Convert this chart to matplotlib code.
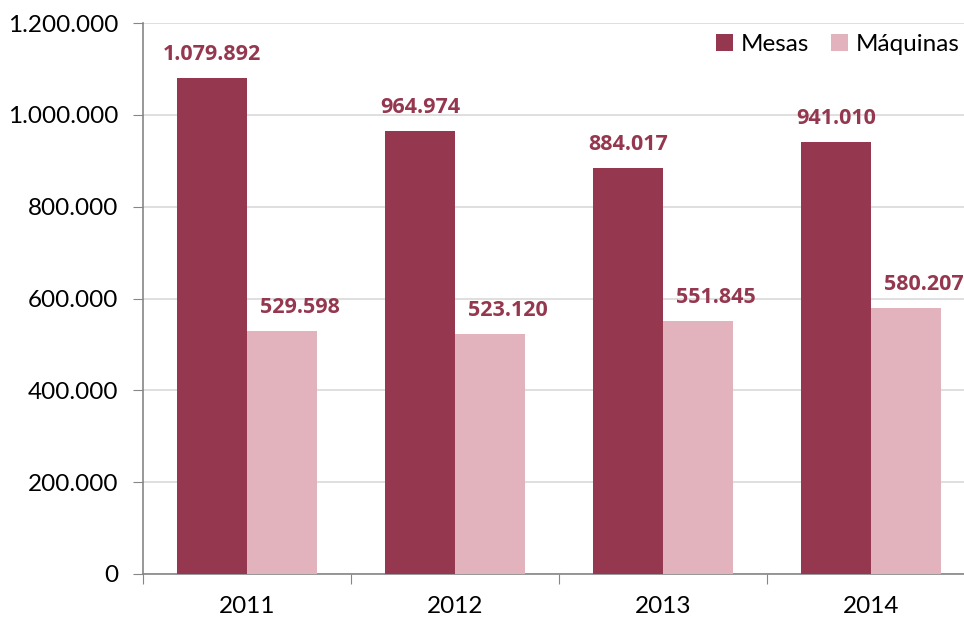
import matplotlib
matplotlib.use("Agg")
import matplotlib.pyplot as plt
import numpy as np
from matplotlib.ticker import FuncFormatter, FixedLocator

years = ["2011", "2012", "2013", "2014"]
mesas = [1079892, 964974, 884017, 941010]
maquinas = [529598, 523120, 551845, 580207]
series_names = ["Mesas", "Máquinas"]

c_mesas = "#94374F"
c_maq = "#E3B3BD"
c_label = "#94374F"

plt.rcParams['font.family'] = ['Lato', 'DejaVu Sans']
BOLD = ['Open Sans', 'DejaVu Sans']

fig = plt.figure(figsize=(9.64, 6.19), dpi=100)
W, H = 964, 619
left, right_px, top, bottom = 143, 143 + 4 * 208, 23, 574
ax = fig.add_axes([left / W, 1 - bottom / H, (right_px - left) / W, (bottom - top) / H])

x = np.arange(len(years))
bw = 0.335
ax.bar(x - bw / 2, mesas, bw, color=c_mesas, label=series_names[0], zorder=3)
ax.bar(x + bw / 2, maquinas, bw, color=c_maq, label=series_names[1], zorder=3)

def fmt(v):
    return f"{int(v):,}".replace(",", ".")

for xi, v in zip(x, mesas):
    ax.annotate(fmt(v), (xi - bw / 2, v), xytext=(0, 13), textcoords="offset points",
                ha="center", va="baseline", color=c_label, fontsize=15.5, fontweight="bold",
                family=BOLD)
for xi, v in zip(x, maquinas):
    ax.annotate(fmt(v), (xi + bw / 2, v), xytext=(13, 13), textcoords="offset points",
                ha="center", va="baseline", color=c_label, fontsize=15.5, fontweight="bold",
                family=BOLD, annotation_clip=False)

ax.set_xlim(-0.5, 3.5)
ax.set_ylim(0, 1200000)
ax.yaxis.set_major_locator(FixedLocator(np.arange(0, 1200001, 200000)))
ax.yaxis.set_major_formatter(FuncFormatter(lambda v, p: fmt(v)))
ax.grid(axis="y", color="#D9D9D9", linewidth=1.2, zorder=0)
ax.set_axisbelow(True)

ax.set_xticks([-0.5, 0.5, 1.5, 2.5, 3.5])
ax.set_xticklabels([])
ax.set_xticks(x, minor=True)
ax.set_xticklabels(years, minor=True)
ax.tick_params(axis="x", which="minor", length=0, pad=16, labelsize=17.5)
ax.tick_params(axis="x", which="major", length=7, color="#868686", direction="out")
ax.tick_params(axis="y", length=7, color="#868686", direction="out", labelsize=17.5, pad=11)

for s in ["top", "right"]:
    ax.spines[s].set_visible(False)
for s in ["left", "bottom"]:
    ax.spines[s].set_color("#868686")
    ax.spines[s].set_linewidth(1.2)

leg = fig.legend(loc="upper right", bbox_to_anchor=(1.0, 1 - 29 / H), ncol=2, frameon=False,
                 fontsize=17.5, handlelength=0.7, handleheight=0.7, handletextpad=0.3,
                 columnspacing=0.9, borderaxespad=0.0, borderpad=0.2)

fig.savefig("out.png", dpi=100)
